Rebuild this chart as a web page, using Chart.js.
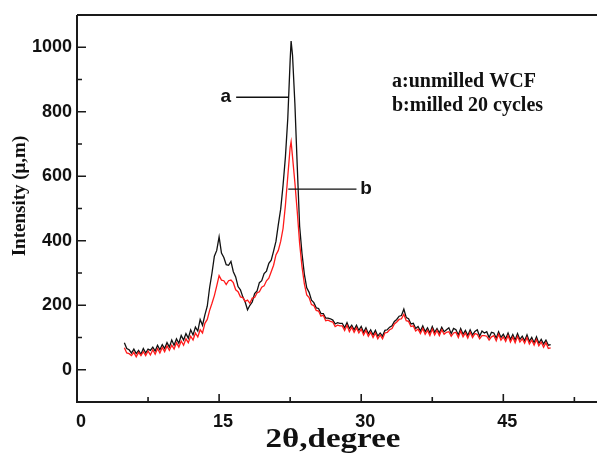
<!DOCTYPE html>
<html>
<head>
<meta charset="utf-8">
<script src="https://cdn.jsdelivr.net/npm/chart.js@4.4.1/dist/chart.umd.min.js"></script>
<style>
  html, body { margin: 0; padding: 0; background: #fff; overflow: hidden; }
  #wrap { width: 620px; height: 453px; }
</style>
</head>
<body>
<div id="wrap"><canvas id="xrdChart" width="620" height="453"></canvas></div>
<script>
// 2theta positions (degree)
const twoTheta = [
  5, 5.25, 5.5, 5.75, 6, 6.25, 6.5, 6.75, 7, 7.25, 7.5, 7.75, 8, 8.25, 8.5, 8.75,
  9, 9.25, 9.5, 9.75, 10, 10.25, 10.5, 10.75, 11, 11.25, 11.5, 11.75, 12, 12.25, 12.5, 12.75,
  13, 13.25, 13.5, 13.75, 14, 14.25, 14.5, 14.75, 15, 15.25, 15.5, 15.75, 16, 16.25, 16.5, 16.75,
  17, 17.25, 17.5, 17.75, 18, 18.25, 18.5, 18.75, 19, 19.25, 19.5, 19.75, 20, 20.25, 20.5, 20.75,
  21, 21.25, 21.5, 21.75, 22, 22.25, 22.5, 22.6, 22.75, 23, 23.25, 23.5, 23.75,
  24, 24.25, 24.5, 24.75, 25, 25.25, 25.5, 25.75, 26, 26.25, 26.5, 26.75, 27, 27.25, 27.5, 27.75,
  28, 28.25, 28.5, 28.75, 29, 29.25, 29.5, 29.75, 30, 30.25, 30.5, 30.75, 31, 31.25, 31.5, 31.75,
  32, 32.25, 32.5, 32.75, 33, 33.25, 33.5, 33.75, 34, 34.25, 34.5, 34.75, 35, 35.25, 35.5, 35.75,
  36, 36.25, 36.5, 36.75, 37, 37.25, 37.5, 37.75, 38, 38.25, 38.5, 38.75, 39, 39.25, 39.5, 39.75,
  40, 40.25, 40.5, 40.75, 41, 41.25, 41.5, 41.75, 42, 42.25, 42.5, 42.75, 43, 43.25, 43.5, 43.75,
  44, 44.25, 44.5, 44.75, 45, 45.25, 45.5, 45.75, 46, 46.25, 46.5, 46.75, 47, 47.25, 47.5, 47.75,
  48, 48.25, 48.5, 48.75, 49, 49.25, 49.5, 49.75, 50
];

// a: unmilled WCF (black)
const unmilledWCF = [
  84, 66, 62, 52, 64, 50, 60, 48, 66, 52, 64, 60, 70, 58, 76, 62,
  78, 66, 84, 70, 92, 76, 96, 82, 106, 92, 112, 98, 124, 108, 132, 120,
  156, 138, 170, 197, 255, 300, 352, 370, 412, 362, 348, 326, 324, 336, 304, 288,
  258, 248, 226, 210, 186, 200, 210, 236, 244, 270, 276, 298, 306, 330, 340, 368,
  398, 450, 498, 572, 660, 780, 960, 1019, 975, 825, 630, 445, 360,
  296, 254, 240, 216, 208, 192, 190, 174, 174, 160, 160, 158, 154, 142, 146, 144,
  144, 130, 146, 128, 138, 124, 138, 122, 134, 116, 130, 112, 124, 108, 122, 104,
  114, 104, 122, 124, 132, 136, 150, 156, 166, 168, 188, 162, 158, 142, 144, 128,
  134, 120, 136, 118, 130, 114, 134, 116, 128, 114, 132, 118, 124, 130, 112, 128,
  124, 108, 128, 110, 122, 106, 124, 108, 119, 124, 104, 120, 114, 118, 100, 116,
  114, 98, 118, 100, 110, 96, 114, 94, 109, 92, 112, 94, 104, 90, 108, 88,
  100, 84, 102, 82, 94, 80, 92, 76, 78
];

// b: milled 20 cycles (red)
const milled20 = [
  68, 52, 50, 44, 54, 40, 54, 44, 56, 44, 58, 46, 62, 48, 66, 52,
  69, 56, 74, 60, 76, 64, 84, 70, 89, 76, 96, 84, 104, 92, 114, 102,
  124, 114, 144, 156, 184, 206, 230, 260, 292, 278, 276, 264, 276, 278, 270, 248,
  242, 226, 224, 212, 216, 206, 222, 224, 238, 242, 256, 260, 276, 284, 304, 324,
  356, 370, 398, 438, 510, 600, 690, 707, 660, 580, 490, 392, 320,
  266, 232, 224, 202, 199, 184, 182, 166, 169, 152, 154, 150, 148, 134, 138, 136,
  136, 122, 138, 118, 132, 116, 130, 114, 126, 108, 122, 104, 116, 100, 114, 96,
  108, 96, 114, 116, 124, 128, 142, 148, 156, 158, 172, 152, 150, 134, 136, 120,
  126, 112, 128, 110, 122, 106, 126, 108, 122, 106, 124, 110, 116, 118, 104, 114,
  116, 100, 120, 102, 114, 98, 116, 100, 112, 110, 96, 106, 106, 104, 92, 102,
  106, 90, 110, 92, 102, 88, 106, 86, 101, 84, 104, 86, 96, 82, 100, 80,
  92, 76, 94, 74, 86, 70, 84, 66, 68
];

const xTicks = [0, 15, 30, 45];
const xMinorTicks = [7.5, 22.5, 37.5, 52.5];
const yTicks = [0, 200, 400, 600, 800, 1000];
const yMinorTicks = [-100, 100, 300, 500, 700, 900, 1100];

function toPoints(ys) {
  return twoTheta.map((x, i) => ({ x: x, y: ys[i] }));
}

// frame, inside ticks, titles and labels
const decor = {
  id: "decor",
  afterDraw(chart) {
    const ctx = chart.ctx;
    const area = chart.chartArea;
    const xs = chart.scales.x;
    const ys = chart.scales.y;
    ctx.save();
    ctx.strokeStyle = "#1a1a1a";
    ctx.lineWidth = 2;
    ctx.beginPath();
    ctx.moveTo(area.left, area.top);
    ctx.lineTo(area.right + 5, area.top);
    ctx.moveTo(area.left, area.top);
    ctx.lineTo(area.left, area.bottom);
    ctx.lineTo(area.right + 5, area.bottom);
    ctx.stroke();

    ctx.lineWidth = 1.6;
    ctx.beginPath();
    yTicks.forEach((v) => {
      const p = ys.getPixelForValue(v);
      ctx.moveTo(area.left, p);
      ctx.lineTo(area.left + 9, p);
    });
    yMinorTicks.forEach((v) => {
      const p = ys.getPixelForValue(v);
      ctx.moveTo(area.left, p);
      ctx.lineTo(area.left + 5, p);
    });
    xTicks.forEach((v) => {
      const p = xs.getPixelForValue(v);
      ctx.moveTo(p, area.bottom);
      ctx.lineTo(p, area.bottom - 8);
    });
    xMinorTicks.forEach((v) => {
      const p = xs.getPixelForValue(v);
      ctx.moveTo(p, area.bottom);
      ctx.lineTo(p, area.bottom - 5);
    });
    ctx.stroke();

    // pointer lines for a and b
    ctx.lineWidth = 1.3;
    ctx.strokeStyle = "#111";
    ctx.beginPath();
    ctx.moveTo(xs.getPixelForValue(16.8), ys.getPixelForValue(845));
    ctx.lineTo(xs.getPixelForValue(22.3), ys.getPixelForValue(845));
    ctx.moveTo(xs.getPixelForValue(22.3), ys.getPixelForValue(560));
    ctx.lineTo(xs.getPixelForValue(29.5), ys.getPixelForValue(560));
    ctx.stroke();

    ctx.fillStyle = "#111";
    ctx.font = "bold 19px 'Liberation Sans', Arial, sans-serif";
    ctx.textAlign = "center";
    ctx.textBaseline = "middle";
    ctx.fillText("a", xs.getPixelForValue(15.7), ys.getPixelForValue(845));
    ctx.fillText("b", xs.getPixelForValue(30.5), ys.getPixelForValue(560));

    // legend text
    ctx.font = "bold 20px 'Liberation Serif', 'Times New Roman', serif";
    ctx.textAlign = "left";
    ctx.fillText("a:unmilled WCF", 392, 82);
    ctx.fillText("b:milled 20 cycles", 392, 106);

    // axis titles
    ctx.save();
    ctx.translate(333, 440);
    ctx.scale(1.18, 1);
    ctx.font = "bold 28px 'Liberation Serif', 'Times New Roman', serif";
    ctx.textAlign = "center";
    ctx.fillText("2\u03b8,degree", 0, 0);
    ctx.restore();

    ctx.translate(20, 196);
    ctx.rotate(-Math.PI / 2);
    ctx.textAlign = "center";
    ctx.font = "bold 19px 'Liberation Serif', 'Times New Roman', serif";
    ctx.fillText("Intensity (\u03bc,m)", 0, 0);
    ctx.restore();
  },
};

new Chart(document.getElementById("xrdChart"), {
  type: "line",
  data: {
    datasets: [
      {
        label: "b:milled 20 cycles",
        data: toPoints(milled20),
        borderColor: "#ff1a1a",
        borderWidth: 1.3,
        pointRadius: 0,
        tension: 0,
        order: 0,
      },
      {
        label: "a:unmilled WCF",
        data: toPoints(unmilledWCF),
        borderColor: "#111111",
        borderWidth: 1.3,
        pointRadius: 0,
        tension: 0,
        order: 1,
      },
    ],
  },
  options: {
    responsive: false,
    animation: false,
    layout: { padding: { top: 15, right: 3, left: 0, bottom: 0 } },
    plugins: { legend: { display: false }, tooltip: { enabled: false } },
    scales: {
      x: {
        type: "linear",
        min: 0,
        max: 57,
        grid: { display: false, drawTicks: false },
        border: { display: false },
        afterBuildTicks: (s) => { s.ticks = xTicks.map((v) => ({ value: v })); },
        afterFit: (s) => { s.height = 51; s.paddingLeft = 0; s.paddingRight = 0; },
        ticks: {
          color: "#111",
          padding: 9,
          labelOffset: 4,
          maxRotation: 0,
          callback: (v) => String(v),
          font: { family: "'Liberation Sans', Arial, sans-serif", size: 18, weight: "bold" },
        },
      },
      y: {
        min: -100,
        max: 1100,
        grid: { display: false, drawTicks: false },
        border: { display: false },
        afterBuildTicks: (s) => { s.ticks = yTicks.map((v) => ({ value: v })); },
        afterFit: (s) => { s.width = 77; s.paddingTop = 0; s.paddingBottom = 0; },
        ticks: {
          color: "#111",
          padding: 5,
          callback: (v) => String(v),
          font: { family: "'Liberation Sans', Arial, sans-serif", size: 18, weight: "bold" },
        },
      },
    },
  },
  plugins: [decor],
});
</script>
</body>
</html>
